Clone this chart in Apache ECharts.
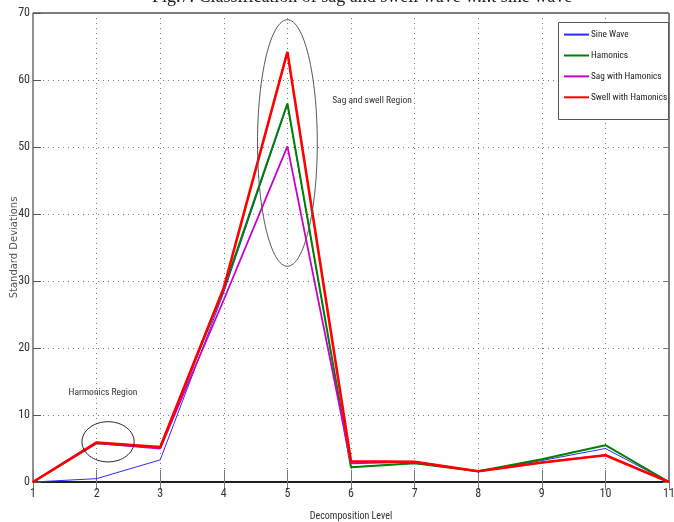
<!DOCTYPE html>
<html>
<head>
<meta charset="utf-8">
<script src="https://cdn.jsdelivr.net/npm/echarts@6/dist/echarts.min.js"></script>
<style>html,body{margin:0;padding:0;background:#fff;}#c{width:674px;height:522px;}</style>
</head>
<body>
<div id="c"></div>
<script>
// ---- data ----
var levels = [1, 2, 3, 4, 5, 6, 7, 8, 9, 10, 11];
var sineWave = [0, 0.5, 3.3, 28.3, 56.3, 2.2, 2.8, 1.6, 3.2, 5.0, 0];
var harmonics = [0, 5.8, 5.1, 28.8, 56.5, 2.2, 2.8, 1.6, 3.4, 5.5, 0];
var sagHarm = [0, 5.8, 5.0, 27.2, 50.1, 2.8, 3.0, 1.6, 2.9, 4.0, 0];
var swellHarm = [0, 5.9, 5.2, 29.0, 64.2, 3.1, 3.0, 1.6, 2.9, 4.0, 0];
var yTicks = [0, 10, 20, 30, 40, 50, 60, 70];
var seriesNames = ['Sine Wave', 'Hamonics', 'Sag with Hamonics', 'Swell with Hamonics'];

function pairs(vals) { return levels.map(function (x, i) { return [x, vals[i]]; }); }

var narrow = '"Liberation Sans Narrow","Arial Narrow","Roboto Condensed",sans-serif';
var chart = echarts.init(document.getElementById('c'), null, { renderer: 'canvas' });

function lineSeries(name, vals, color, width) {
  return {
    name: name, type: 'line', data: pairs(vals), symbol: 'none', silent: true,
    lineStyle: { color: color, width: width }, itemStyle: { color: color }, animation: false
  };
}

var option = {
  animation: false,
  backgroundColor: '#fff',
  grid: { left: 33, right: 5, top: 13, bottom: 40, containLabel: false, outerBoundsMode: 'none',
    show: true, borderColor: '#000', borderWidth: 1, backgroundColor: 'transparent' },
  legend: {
    orient: 'vertical', left: 558, top: 22, align: 'left', itemGap: 9.7, itemWidth: 25, itemHeight: 14,
    padding: [7, 0, 8, 5], borderWidth: 0, z: 5,
    itemStyle: { opacity: 0, borderWidth: 0 },
    textStyle: { fontFamily: narrow, fontSize: 9.3, color: '#222', padding: [0, 0, 0, -3] },
    data: seriesNames
  },
  xAxis: [{
    type: 'value', min: 1, max: 11, interval: 1,
    name: 'Decomposition Level', nameLocation: 'middle', nameGap: 29,
    nameTextStyle: { fontFamily: narrow, fontSize: 10, color: '#333' },
    axisLine: { lineStyle: { color: '#000', width: 1.5 } },
    axisTick: { inside: true, length: 12, lineStyle: { color: '#777' } },
    axisLabel: { fontFamily: narrow, fontSize: 12, color: '#333', margin: 6 },
    splitLine: { show: true, lineStyle: { type: [1, 4], color: '#777' } }
  }, {
    type: 'value', min: 1, max: 11, interval: 1, position: 'top',
    axisLine: { show: false }, axisLabel: { show: false },
    axisTick: { inside: true, length: 8, lineStyle: { color: '#777' } }, splitLine: { show: false }
  }],
  yAxis: [{
    type: 'value', min: 0, max: 70, interval: 10,
    name: 'Standard Deviations', nameLocation: 'middle', nameGap: 14, nameMoveOverlap: false,
    nameTextStyle: { fontFamily: 'DejaVu Sans', fontSize: 10, color: '#555' },
    axisLine: { show: true, lineStyle: { color: '#999', width: 1.5 } },
    axisTick: { show: true, inside: true, length: 8, lineStyle: { color: '#555' } },
    axisLabel: { fontFamily: narrow, fontSize: 12, color: '#333', margin: 3 },
    splitLine: { show: true, lineStyle: { type: [1, 4], color: '#777' } }
  }, {
    type: 'value', min: 0, max: 70, interval: 10, position: 'right',
    axisLine: { show: false }, axisLabel: { show: false },
    axisTick: { show: true, inside: true, length: 6, lineStyle: { color: '#777' } }, splitLine: { show: false }
  }],
  series: [
    lineSeries(seriesNames[0], sineWave, '#2a2aff', 1),
    lineSeries(seriesNames[1], harmonics, '#008000', 2),
    lineSeries(seriesNames[2], sagHarm, '#cc00cc', 1.8),
    lineSeries(seriesNames[3], swellHarm, '#ff0000', 2.6)
  ]
};
chart.setOption(option);

// annotations (ellipses, region labels, legend frame) placed through the axes
function px(x, y) { return chart.convertToPixel({ gridIndex: 0 }, [x, y]); }
var bigC = px(5, 50.6), bigE = px(5.47, 50.6 + 18.4);
var smC = px(2.18, 6.0), smE = px(2.59, 9.0);
var t1 = px(2.1, 13.3), t2 = px(6.33, 56.9);
chart.setOption({
  graphic: [
    { type: 'rect', shape: { x: 558.5, y: 22.5, width: 110, height: 97 },
      style: { fill: '#fff', stroke: '#555', lineWidth: 1 }, z: 3 },
    { type: 'ellipse', shape: { cx: bigC[0], cy: bigC[1], rx: bigE[0] - bigC[0], ry: bigC[1] - bigE[1] },
      style: { fill: 'none', stroke: '#555', lineWidth: 1 }, z: 10 },
    { type: 'ellipse', shape: { cx: smC[0], cy: smC[1], rx: smE[0] - smC[0], ry: smC[1] - smE[1] },
      style: { fill: 'none', stroke: '#222', lineWidth: 1 }, z: 10 },
    { type: 'text', x: t1[0], y: t1[1], style: { text: 'Harmonics Region', font: '9.5px ' + narrow, fill: '#333', textAlign: 'center', textVerticalAlign: 'middle' }, z: 10 },
    { type: 'text', x: t2[0], y: t2[1], style: { text: 'Sag and swell Region', font: '9.5px ' + narrow, fill: '#333', textAlign: 'center', textVerticalAlign: 'middle' }, z: 10 },
    { type: 'text', x: 362, y: -3, style: { text: 'Fig.7. Classification of sag and swell wave w.r.t sine wave', font: '18px "Liberation Serif", "Times New Roman", serif', fill: '#222', textAlign: 'center', textVerticalAlign: 'middle' }, z: 10 }
  ]
});
</script>
</body>
</html>
